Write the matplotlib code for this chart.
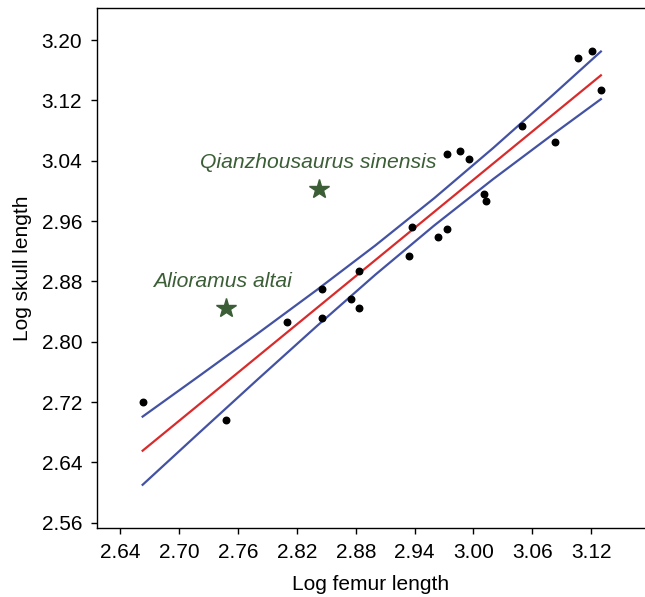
import matplotlib.pyplot as plt

plt.rcParams['font.family'] = ['Liberation Sans', 'DejaVu Sans']

# Log femur length / log skull length of tyrannosaurids
femur = [2.6626, 2.7479, 2.8095, 2.8451, 2.8451, 2.8756, 2.8834, 2.8834,
         2.9342, 2.9369, 2.9637, 2.9731, 2.9731, 2.9867, 2.9952, 3.0111,
         3.0132, 3.0494, 3.0829, 3.1070, 3.1209, 3.1306]
skull = [2.7206, 2.6966, 2.8267, 2.8697, 2.8320, 2.8572, 2.8940, 2.8453,
         2.9143, 2.9524, 2.9395, 2.9497, 3.0489, 3.0532, 3.0417, 2.9962,
         2.9869, 3.0864, 3.0648, 3.1762, 3.1850, 3.1338]

# regression line and confidence band
fit_x = [2.6626, 2.72, 2.78, 2.84, 2.90, 2.96, 3.02, 3.08, 3.13]
fit_y = [2.6555, 2.7166, 2.7805, 2.8444, 2.9083, 2.9722, 3.0361, 3.1000, 3.1532]
ci_upper = [2.7007, 2.7543, 2.8109, 2.8684, 2.9277, 2.9903, 3.0567, 3.1260, 3.1848]
ci_lower = [2.6103, 2.6789, 2.7501, 2.8204, 2.8889, 2.9541, 3.0155, 3.0740, 3.1216]

# highlighted taxa
taxa = ['Qianzhousaurus sinensis', 'Alioramus altai']
taxa_femur = [2.8423, 2.7472]
taxa_skull = [3.0024, 2.8445]

xticks = [2.64, 2.70, 2.76, 2.82, 2.88, 2.94, 3.00, 3.06, 3.12]
yticks = [2.56, 2.64, 2.72, 2.80, 2.88, 2.96, 3.04, 3.12, 3.20]

green = '#3b5e36'
blue = '#4352a3'
red = '#d92b2b'

fig = plt.figure(figsize=(6.45, 5.97), dpi=100)
ax = fig.add_axes([0.150, 0.1156, 0.85, 0.871])

ax.plot(fit_x, ci_upper, color=blue, lw=1.6)
ax.plot(fit_x, ci_lower, color=blue, lw=1.6)
ax.plot(fit_x, fit_y, color=red, lw=1.6)
ax.scatter(femur, skull, s=22, color='black', zorder=3)
ax.plot(taxa_femur, taxa_skull, linestyle='none', marker='*', markersize=15,
        color=green, zorder=3)

ax.text(taxa_femur[0] - 0.001, taxa_skull[0] + 0.035, taxa[0], color=green,
        style='italic', fontsize=15.2, ha='center', va='center')
ax.text(taxa_femur[1] - 0.003, taxa_skull[1] + 0.035, taxa[1], color=green,
        style='italic', fontsize=15.2, ha='center', va='center')

ax.set_xlim(2.6158, 3.175)
ax.set_ylim(2.553, 3.2425)
ax.set_xticks(xticks)
ax.set_xticklabels([f'{t:.2f}' for t in xticks])
ax.set_yticks(yticks)
ax.set_yticklabels([f'{t:.2f}' for t in yticks])
ax.tick_params(labelsize=15, length=4.5, width=1, pad=6)
ax.spines['right'].set_visible(False)
for s in ['left', 'bottom', 'top']:
    ax.spines[s].set_linewidth(1)

ax.set_xlabel('Log femur length', fontsize=15, labelpad=10)
ax.set_ylabel('Log skull length', fontsize=15, labelpad=7)

plt.savefig('out.png', dpi=100)
